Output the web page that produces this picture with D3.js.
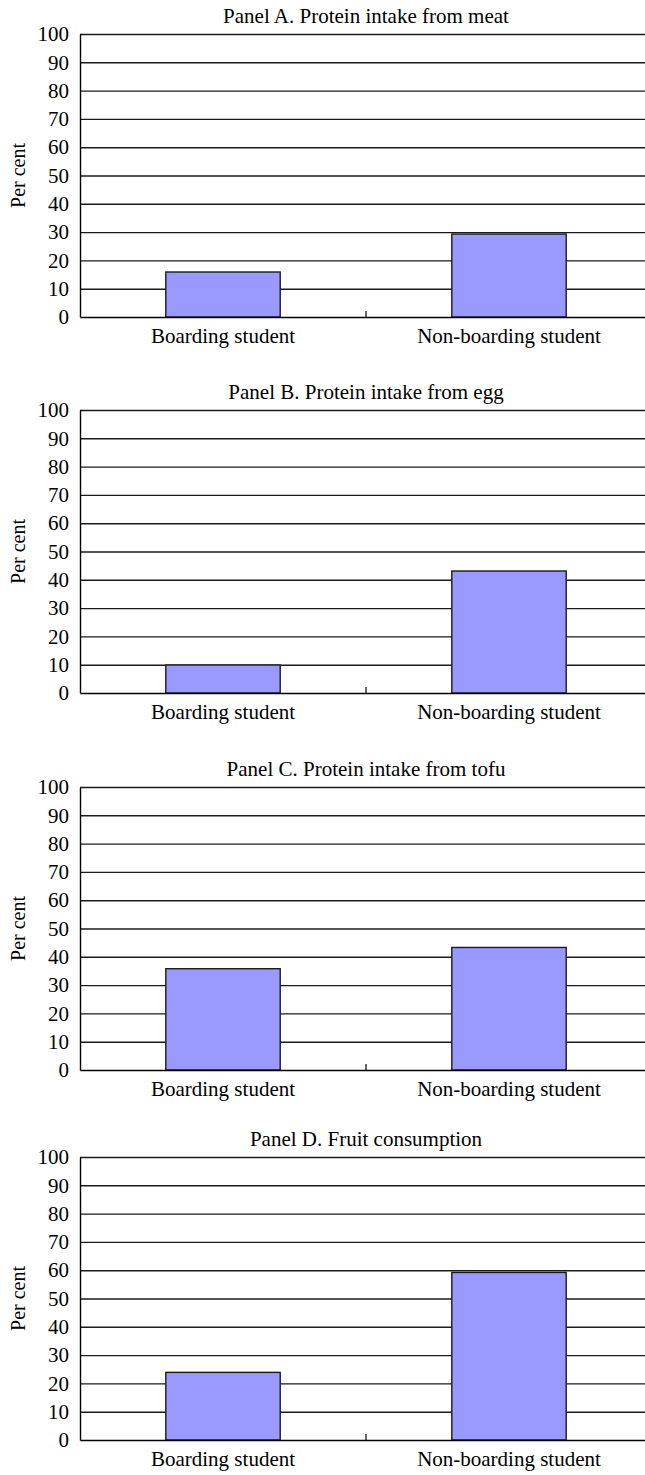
<!DOCTYPE html>
<html>
<head>
<meta charset="utf-8">
<script src="https://cdn.jsdelivr.net/npm/d3@7"></script>
<style>
  html, body { margin: 0; padding: 0; background: #fff; }
  svg text { font-family: "Liberation Serif", "Times New Roman", serif; fill: #000; }
</style>
</head>
<body>
<svg id="chart" width="645" height="1475"></svg>
<script>
// Share of students (per cent), by boarding status
const categories = ["Boarding student", "Non-boarding student"];
const panelTitles = [
  "Panel A. Protein intake from meat",
  "Panel B. Protein intake from egg",
  "Panel C. Protein intake from tofu",
  "Panel D. Fruit consumption"
];
const meatValues  = [15.9, 29.3];
const eggValues   = [9.9, 43.1];
const tofuValues  = [35.8, 43.3];
const fruitValues = [23.9, 59.2];
const yTicks = [0, 10, 20, 30, 40, 50, 60, 70, 80, 90, 100];
const yLabel = "Per cent";

const panels = [meatValues, eggValues, tofuValues, fruitValues];
const panelTops = [34, 410, 787, 1157];
const plotLeft = 80, plotRight = 652, plotHeight = 283;

const svg = d3.select("#chart");

const x = d3.scaleBand()
  .domain(categories)
  .range([plotLeft, plotRight])
  .paddingInner(0.6)
  .paddingOuter(0.3);

panels.forEach((values, i) => {
  const top = panelTops[i];
  const y = d3.scaleLinear().domain([0, 100]).range([top + plotHeight, top]);
  const g = svg.append("g");

  // title
  g.append("text")
    .attr("x", 366)
    .attr("y", top - 11)
    .attr("text-anchor", "middle")
    .attr("font-size", 21)
    .text(panelTitles[i]);

  // horizontal gridlines
  g.append("g")
    .attr("transform", `translate(${plotLeft},0)`)
    .call(d3.axisLeft(y).tickValues(yTicks.filter(t => t > 0)).tickSize(-(plotRight - plotLeft)).tickFormat(""))
    .call(a => a.select(".domain").remove())
    .call(a => a.selectAll("line").attr("stroke", "#1a1a1a").attr("stroke-width", 1.4));

  // bars
  g.selectAll("rect.bar")
    .data(values)
    .join("rect")
    .attr("class", "bar")
    .attr("x", (d, j) => x(categories[j]))
    .attr("width", x.bandwidth())
    .attr("y", d => y(d))
    .attr("height", d => y(0) - y(d))
    .attr("fill", "#9999ff")
    .attr("stroke", "#1a1a1a")
    .attr("stroke-width", 1.4);

  // y axis with labels
  g.append("g")
    .attr("transform", `translate(${plotLeft},0)`)
    .call(d3.axisLeft(y).tickValues(yTicks).tickSize(0).tickPadding(11))
    .call(a => a.select(".domain").attr("stroke", "#000").attr("stroke-width", 1.4))
    .call(a => a.selectAll("text").attr("font-size", 21).attr("font-family", "Liberation Serif"));

  // x axis baseline with category labels
  const xa = g.append("g")
    .attr("transform", `translate(0,${y(0)})`)
    .call(d3.axisBottom(x).tickSize(0).tickPadding(11))
    .call(a => a.select(".domain").attr("stroke", "#000").attr("stroke-width", 1.4))
    .call(a => a.selectAll("text").attr("font-size", 21).attr("font-family", "Liberation Serif"));

  // divider tick between the categories
  const mid = x(categories[0]) + x.bandwidth() + (x.step() - x.bandwidth()) / 2;
  xa.append("line")
    .attr("x1", mid).attr("x2", mid)
    .attr("y1", 0).attr("y2", -6)
    .attr("stroke", "#000").attr("stroke-width", 1.2);

  // y axis title
  g.append("text")
    .attr("transform", `translate(25,${top + plotHeight / 2}) rotate(-90)`)
    .attr("text-anchor", "middle")
    .attr("font-size", 20)
    .text(yLabel);
});
</script>
</body>
</html>
